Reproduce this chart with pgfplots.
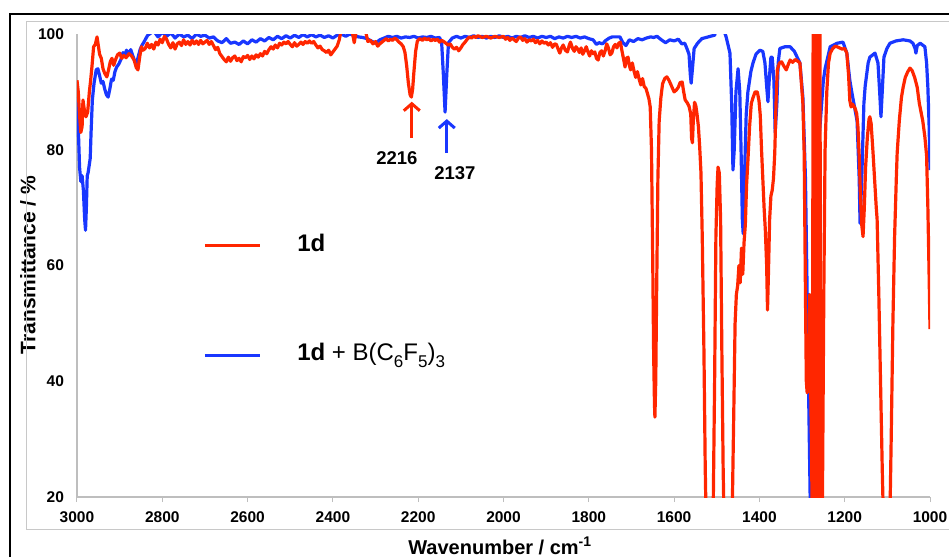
\documentclass[border=0pt]{standalone}
\usepackage{pgfplots}
\pgfplotsset{compat=1.18}
\usepackage{fontspec}
\setmainfont{Liberation Sans}
\usetikzlibrary{arrows.meta}
\definecolor{irred}{RGB}{255,38,0}
\definecolor{irblue}{RGB}{25,55,255}
\definecolor{axgray}{RGB}{190,190,190}
\definecolor{boxgray}{RGB}{200,200,200}
\newcommand{\sub}[1]{\raisebox{-0.28em}{\fontsize{17}{17}\selectfont #1}}

\pgfplotstableread{
w T
3000 89
2997 84
2994 77
2991 74.5
2988 75.5
2985 73
2982 68
2980 66.1
2978 70
2976 75.5
2974 76
2972 77
2969 78.5
2967 83
2964 88.6
2960 91.5
2955 93.8
2951 94
2947 92.8
2943 91.5
2939 91.8
2935 90.5
2931 89.5
2927 89.1
2923 90.5
2919 92.2
2915 92
2911 93.5
2907 94.3
2902 94.8
2897 95.6
2892 96.8
2888 96.2
2884 97.2
2879 96.5
2874 97.3
2869 96.2
2864 95.2
2860 95
2856 96.2
2852 97.3
2848 98
2843 98.6
2838 99.3
2834 99.8
2830 100
2820 100.5
2810 99.5
2800 100.3
2790 99.6
2780 100.2
2770 99.3
2760 100
2750 99.5
2740 99.8
2730 99.2
2720 100
2710 99.6
2700 99.8
2690 99.3
2680 99.5
2670 98.8
2660 98.5
2650 99.2
2640 98.4
2630 98.6
2620 98.2
2610 98.8
2600 98.3
2590 99
2580 98.6
2570 99.2
2560 98.8
2550 99.4
2540 99
2530 99.6
2520 99.2
2510 99.7
2500 99.3
2490 99.8
2480 99.4
2470 99.9
2460 99.5
2450 99.9
2440 99.5
2430 99.8
2420 99.4
2410 99.7
2400 99.3
2390 99.8
2380 100
2370 99.6
2360 100
2350 99.7
2340 99.5
2330 99.4
2320 99.2
2310 98.8
2300 98.4
2290 99
2280 99.3
2270 99.6
2260 99.4
2250 99.6
2240 99.3
2230 99.5
2220 99.4
2210 99.6
2200 99.3
2190 99.5
2180 99.4
2170 99.6
2160 99.3
2150 99.4
2145 98.5
2141 93
2137 86.5
2133 93
2129 98.5
2120 99.3
2110 99.6
2100 99.3
2090 99.6
2080 99.4
2070 99.7
2060 99.4
2050 99.6
2040 99.3
2030 99.6
2020 99.4
2010 99.7
2000 99.4
1990 99.6
1980 99.3
1970 99.6
1960 99.4
1950 99.7
1940 99.4
1930 99.6
1920 99.3
1910 99.6
1900 99.4
1890 99.6
1880 99.2
1870 99.5
1860 99.3
1850 99.6
1840 99.4
1830 99.6
1820 99.3
1810 99.5
1800 99.2
1790 99
1782 98.2
1776 98.5
1768 98.3
1760 98.9
1752 99.3
1745 99.5
1735 99.5
1727 99.5
1720 98.5
1713 98
1705 99
1695 98.7
1685 99.2
1675 99
1665 99.3
1655 99.5
1648 99.4
1640 99.6
1630 99
1620 98.5
1610 99
1600 98.8
1590 99.1
1582 98.3
1575 98.4
1570 97.5
1565 96.5
1562 93
1560 91.5
1557 94
1553 97.5
1545 98.4
1535 99.2
1525 99.4
1515 99.6
1505 99.8
1500 101
1485 101
1478 99.5
1469 96.7
1465 88
1462 76.5
1459 80
1455 90
1450 94
1446 90
1443 80
1440 68
1438 65.5
1435 75
1431 86
1427 90
1420 93.5
1415 95
1408 96.5
1399 97.2
1392 97
1387 95
1383 91
1380 88.3
1377 92
1373 96
1370 96
1366 92
1363 83
1359 88
1356 95
1352 97.5
1340 97.8
1328 97.8
1318 97
1305 95
1298 89
1292 75
1285 40
1280 15
1275 15
1270 50
1262 80
1250 92
1246 94
1234 97.8
1218 98.4
1204 98.6
1195 96.7
1188 92
1183 89.8
1176 87
1171 85
1166 75
1164 67.3
1160 75
1155 88
1152 91
1145 95
1141 96
1129 96.7
1122 95
1118 90
1115 85.7
1112 90
1108 96
1101 97.5
1094 98.4
1080 98.8
1063 99
1047 98.8
1040 98.4
1035 97.5
1033 96.7
1030 98
1023 98.4
1012 97.8
1008 95
1005 90.8
1002 84
1000 76.5
}\bluedata

\pgfplotstableread{
w T
3000 92
2997 90
2994 86
2991 83
2988 84
2986 88.6
2983 87
2979 85.7
2975 86.5
2971 90
2968 92
2965 94.3
2961 97.8
2957 98.2
2953 99.5
2950 98
2947 96.5
2943 95.8
2939 94
2935 93.2
2930 92.6
2926 93.8
2922 95.2
2918 95.8
2914 94.6
2910 95.5
2905 96.4
2900 96.7
2895 95.8
2890 96.3
2885 95.9
2878 96.6
2872 96.2
2866 95.5
2861 94.2
2857 93.8
2853 96
2849 97.8
2845 97.2
2840 97.5
2835 98.4
2830 97.6
2825 98.2
2820 97.4
2815 98.6
2810 98.1
2805 99.1
2800 98.5
2795 99.6
2790 99.1
2785 98.2
2780 97.6
2775 98.5
2770 97.4
2765 98.3
2760 98.6
2755 98
2750 99
2745 98.2
2740 98.7
2735 98.1
2730 98.9
2725 98.3
2720 98.8
2715 98.2
2710 98.9
2705 98.3
2700 98.6
2695 98.9
2690 98.2
2685 98.7
2680 98.0
2675 97.3
2670 97.7
2665 96.6
2660 96.1
2655 95.6
2650 95.2
2645 96
2640 95.3
2635 95.9
2630 96.2
2625 95.4
2620 95.8
2615 95.2
2610 96.1
2605 95.9
2600 96.3
2595 95.6
2590 96.2
2585 95.7
2580 96.4
2575 96
2570 96.6
2565 96.2
2560 97
2555 96.6
2550 97.3
2545 97.8
2540 97.4
2535 98.1
2530 97.6
2525 98.4
2520 98.1
2515 98.6
2510 98.3
2505 98.7
2500 98.2
2495 97.8
2490 98.5
2485 97.9
2480 98.2
2475 98.6
2470 98.2
2465 98.7
2460 98.4
2455 98.8
2450 98.4
2445 98.7
2440 98.1
2435 97.6
2430 97.9
2425 97.3
2420 97.1
2415 96.8
2410 97.2
2405 96.4
2400 96.9
2395 97.4
2390 97.9
2385 99.0
2380 101
2356 101
2350 98.5
2344 101
2325 101
2318 98.7
2312 98.9
2306 98.3
2300 98.7
2295 97.9
2290 98.3
2285 98.6
2280 98.9
2275 99.2
2270 98.8
2265 99.1
2260 98.9
2255 99.3
2250 99
2245 98.6
2240 98.3
2235 97.8
2231 96.8
2227 94.5
2223 91.5
2219 89.5
2216 89.1
2213 90.5
2210 93.5
2206 97
2202 98.8
2196 99.2
2190 98.9
2185 99.3
2180 99
2175 99.2
2170 98.8
2165 99.1
2160 98.9
2155 99.1
2150 98.6
2145 98.9
2140 98.7
2135 98.4
2130 98.1
2125 98.3
2120 97.7
2115 97.4
2110 97.7
2105 97.1
2100 97.6
2095 98.2
2090 98.6
2085 99.1
2080 99.5
2075 99.3
2070 99.6
2065 99.4
2060 99.7
2050 99.4
2040 99.6
2030 99.3
2020 99.6
2010 99.4
2000 99.6
1995 99.1
1990 99.4
1985 98.9
1980 99.3
1975 99
1970 98.7
1965 99.3
1960 99.5
1955 98.9
1950 99.2
1945 98.6
1940 99
1935 98.8
1930 99.1
1925 98.5
1920 98.9
1915 98.3
1910 98.8
1905 98.4
1900 98.6
1895 98.1
1890 98.5
1885 97.7
1880 98.3
1876 98.2
1872 97.4
1868 96.7
1864 97.6
1860 98.1
1855 97.2
1850 96.9
1846 98
1843 98.6
1838 97.5
1834 97
1830 97.8
1826 97.4
1822 96.8
1818 97.6
1814 96.5
1810 97.1
1806 97.8
1802 96.9
1798 96.2
1794 97.1
1790 96.6
1786 96.9
1782 95.8
1778 95.5
1774 96.8
1770 97.1
1766 96.2
1762 97.0
1758 98.3
1754 97.6
1750 96.4
1746 96.7
1742 97.8
1738 98.2
1734 97.6
1730 98.4
1726 98.6
1722 97
1718 95.5
1715 94.3
1712 95.8
1708 96
1705 94.6
1702 93.8
1698 95
1694 93.6
1690 92.5
1686 93.5
1682 92.2
1678 91.2
1674 92.3
1670 90.9
1666 90.6
1662 89.6
1659 88.8
1656 87.4
1653 80
1650 60
1648 45
1646 36
1645 33.8
1643 40
1641 55
1638 75
1635 85
1631 89
1627 91.4
1622 92.3
1617 92.6
1612 92
1606 91
1600 90
1595 90.3
1590 90.8
1586 91.6
1581 91.7
1578 90.2
1574 88.6
1569 88.1
1565 87.5
1561 86.2
1559 82
1557 81.2
1555 85
1552 88.2
1549 87.6
1546 86
1543 84
1540 80.5
1537 76
1534 65
1530 45
1527 25
1524 12
1513 10
1508 20
1505 40
1502 65
1499 74
1497 77
1494 76
1491 68
1488 45
1485 25
1482 12
1470 10
1464 16
1460 35
1457 50
1454 55
1451 56.5
1448 60
1445 57
1442 63
1439 58.5
1436 64
1433 67
1430 74
1427 78
1423 84
1419 88
1415 89
1410 90
1405 90
1401 88.5
1398 86
1395 80
1392 75
1389 70
1386 66
1383 60
1381 52.3
1379 58
1376 68
1373 72
1370 73
1367 75
1364 79.4
1361 88
1358 93.8
1353 95
1348 95.2
1343 94.5
1337 93.8
1332 94.8
1328 95.5
1322 95.1
1316 95.6
1310 95.3
1305 95
1301 91
1298 88
1295 79.4
1292 55
1290 40
1288 38
1286 48
1284 39
1282 55
1280 40
1278 30
1276 15
1274 101
1272 10
1270 101
1268 10
1266 101
1264 10
1262 101
1260 10
1258 101
1256 10
1253 10
1249 55
1246 80
1242 90
1238 95
1234 96.7
1228 97.5
1222 97.9
1218 97.8
1212 97.6
1206 97.4
1200 97.5
1195 96.7
1191 93
1188 88.5
1185 87.4
1182 87.9
1179 87.6
1176 87.2
1172 86.3
1169 84
1166 79
1163 72
1160 67
1157 65
1154 70
1151 77
1147 82
1143 85.3
1141 85.7
1138 84.5
1134 80
1130 75
1126 70
1124 68
1120 55
1116 40
1112 25
1108 12
1100 8
1095 12
1091 30
1087 50
1083 65
1079 75
1077 79.4
1072 85
1067 89
1063 90.8
1058 92.5
1052 93.5
1047 94.1
1042 93.7
1036 92.5
1030 90.8
1025 88
1021 86.5
1017 85
1012 82.2
1008 79
1005 70
1002 58
1000 49
}\reddata

\begin{document}
\begin{tikzpicture}[x=1pt,y=1pt]
\begin{axis}[
  at={(77pt,60pt)}, anchor=south west,
  scale only axis, width=853pt, height=463pt,
  x dir=reverse,
  xmin=1000, xmax=3000, ymin=20, ymax=100,
  axis x line=bottom, axis y line=left,
  axis line style={axgray, line width=1.2pt, -},
  xtick={1000,1200,...,3000},
  ytick={20,40,60,80,100},
  x tick style={axgray, line width=1pt},
  xtick align=outside,
  major tick length=5pt,
  y tick style={draw=none},
  /pgf/number format/assume math mode=true,
  /pgf/number format/1000 sep={},
  tick label style={font=\bfseries\fontsize{15.5}{15.5}\selectfont},
  xticklabel style={yshift=-6pt},
  yticklabel style={xshift=-7pt},
]
\addplot[irblue, line width=3.2pt, line join=round] table[x=w,y=T]{\bluedata};
\addplot[irred, line width=3.2pt, line join=round] table[x=w,y=T]{\reddata};
% legend samples
\addplot[irred, line width=3.2pt, forget plot] coordinates {(2700,63.5) (2571,63.5)};
\addplot[irblue, line width=3.2pt, forget plot] coordinates {(2700,44.4) (2571,44.4)};
\node[anchor=base west, inner sep=0pt, font=\fontsize{24}{24}\selectfont] at (axis cs:2484,62.5) {\textbf{1d}};
\node[anchor=base west, inner sep=0pt, font=\fontsize{24}{24}\selectfont] at (axis cs:2484,43.6) {\textbf{1d} + B(C\sub{6}F\sub{5})\sub{3}};
% annotations
\draw[irred, line width=3pt, -{Straight Barb[length=7pt,width=16pt]}] (axis cs:2215,82.0) -- (axis cs:2215,88.3);
\draw[irblue, line width=3pt, -{Straight Barb[length=7pt,width=16pt]}] (axis cs:2133,79.4) -- (axis cs:2133,85.3);
\node[font=\bfseries\fontsize{18.5}{18.5}\selectfont] at (axis cs:2250,78.6) {2216};
\node[font=\bfseries\fontsize{18.5}{18.5}\selectfont] at (axis cs:2114,76.0) {2137};
\end{axis}
\node[font=\bfseries\fontsize{20}{20}\selectfont] at (500pt,11pt) {Wavenumber / cm\textsuperscript{-1}};
\node[font=\bfseries\fontsize{21}{21}\selectfont, rotate=90] at (28pt,292pt) {Transmittance / \%};
% outer frames
\draw[boxgray, line width=1pt] (949pt,28pt) -- (26pt,28pt) -- (26pt,535pt) -- (949pt,535pt);
\draw[black, line width=2.6pt] (10pt,0pt) -- (10pt,543pt) -- (949pt,543pt);
\pgfresetboundingbox
\path[use as bounding box] (0pt,0pt) rectangle (949pt,557pt);
\end{tikzpicture}
\end{document}
